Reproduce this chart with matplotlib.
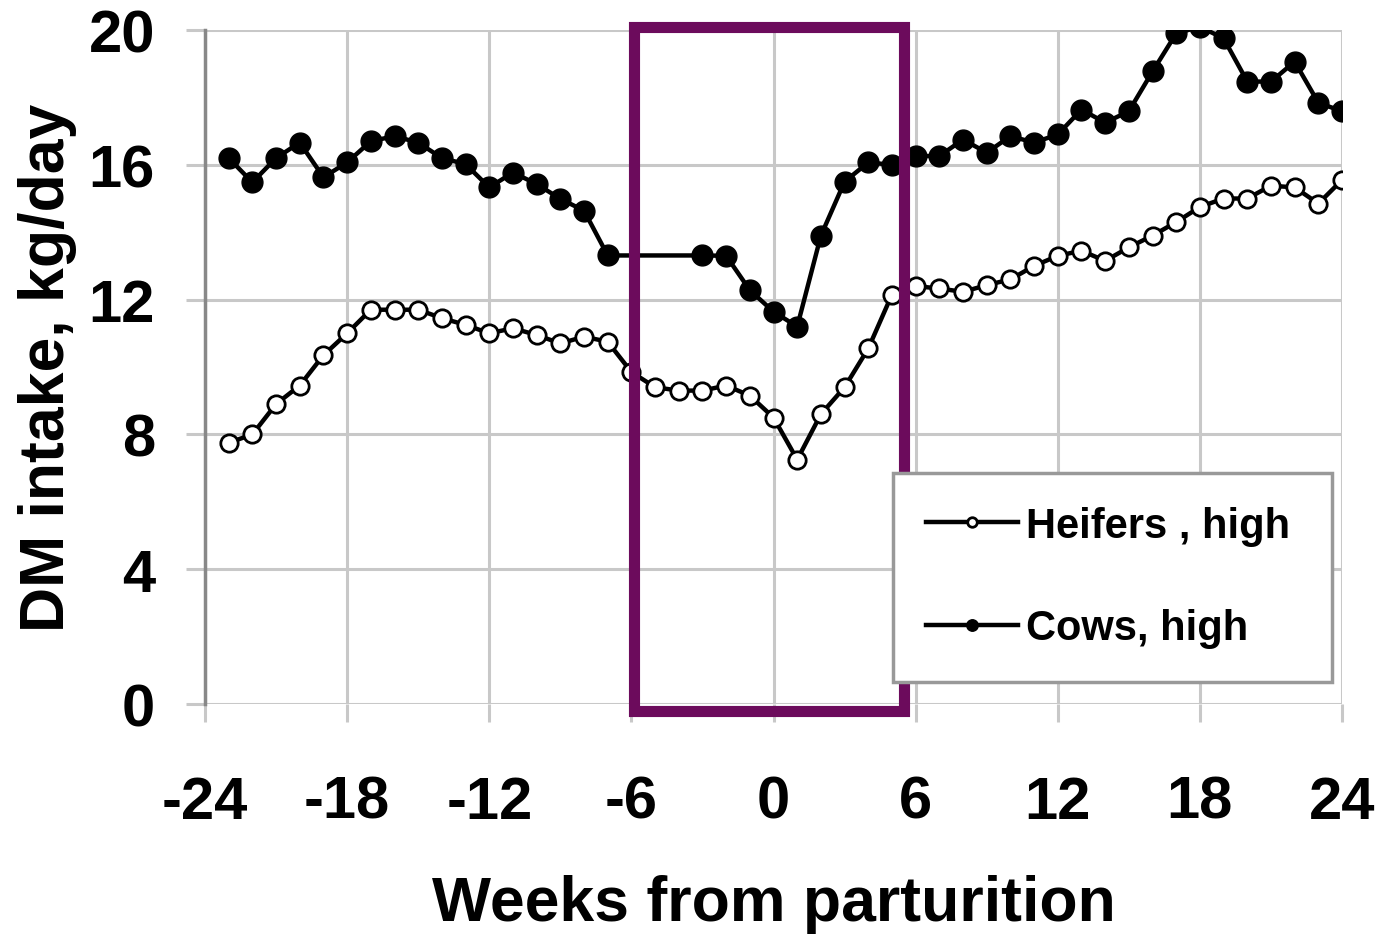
import numpy as np
import matplotlib
matplotlib.use('Agg')
import matplotlib.pyplot as plt
from matplotlib.patches import Rectangle

plt.rcParams['font.family'] = ['Liberation Sans', 'DejaVu Sans']
plt.rcParams['font.weight'] = 'bold'

# weeks relative to calving
heifer_weeks = list(range(-23, 25))
heifer_dmi = [7.75, 8.0, 8.9, 9.45, 10.35, 11.0, 11.7, 11.7, 11.7, 11.45,
              11.25, 11.0, 11.15, 10.95, 10.7, 10.9, 10.75, 9.85, 9.4, 9.3,
              9.3, 9.45, 9.15, 8.5, 7.25, 8.6, 9.4, 10.55, 12.15, 12.4,
              12.33, 12.23, 12.43, 12.6, 13.0, 13.3, 13.45, 13.15, 13.55, 13.9,
              14.3, 14.75, 15.0, 15.0, 15.38, 15.33, 14.85, 15.55]

cow_weeks = [w for w in range(-23, 25) if w not in (-6, -5, -4)]
cow_dmi = [16.2, 15.48, 16.2, 16.66, 15.63, 16.07, 16.7, 16.85, 16.66, 16.2,
           16.02, 15.33, 15.77, 15.43, 14.99, 14.64, 13.31, 13.31, 13.3, 12.28,
           11.64, 11.2, 13.9, 15.5, 16.07, 16.0, 16.26, 16.26, 16.75, 16.36,
           16.85, 16.66, 16.9, 17.64, 17.25, 17.59, 18.77, 19.9, 20.1, 19.75,
           18.47, 18.47, 19.06, 17.84, 17.59]

x_ticks = [-24, -18, -12, -6, 0, 6, 12, 18, 24]
y_ticks = [0, 4, 8, 12, 16, 20]

fig = plt.figure(figsize=(13.86, 9.37), dpi=100)
ax = fig.add_axes([0.1479, 0.2476, 0.8204, 0.7193])

ax.plot(heifer_weeks, heifer_dmi, color='black', lw=3.2, marker='o', ms=12.5,
        mfc='white', mec='black', mew=2, label='Heifers , high', zorder=3)
ax.plot(cow_weeks, cow_dmi, color='black', lw=3.2, marker='o', ms=15,
        mfc='black', mec='black', label='Cows, high', zorder=3)

ax.set_xlim(-24, 24)
ax.set_ylim(0, 20)
ax.set_xticks(x_ticks)
ax.set_yticks(y_ticks)
ax.set_xticklabels([str(t) for t in x_ticks])
ax.grid(True, color='#c8c8c8', lw=2.2)
ax.set_axisbelow(True)

for s in ['top', 'right', 'bottom']:
    ax.spines[s].set_visible(False)
ax.spines['left'].set_color('#888888')
ax.spines['left'].set_linewidth(2.5)

ax.tick_params(axis='x', length=13, width=2.2, color='#c8c8c8', pad=38, labelsize=43)
ax.tick_params(axis='y', length=14, width=2.2, color='#c8c8c8', pad=22, labelsize=43)

ax.set_xlabel('Weeks from parturition', fontsize=45, fontweight='bold', labelpad=32)
ax.set_ylabel('DM intake, kg/day', fontsize=45, fontweight='bold', labelpad=8)

# highlight box around the transition period
box = Rectangle((-5.9, -0.2), 11.4, 20.3, fill=False, edgecolor='#6c0b5c',
                lw=8, clip_on=False, zorder=4)
ax.add_patch(box)

leg = ax.legend(loc='center', bbox_to_anchor=(0.605, 0.0326, 0.386, 0.311),
                mode='expand', borderaxespad=0, fontsize=30, frameon=True,
                fancybox=False, edgecolor='#999999', framealpha=1,
                markerscale=0.55, handlelength=2.2, handletextpad=0.2,
                labelspacing=1.5, borderpad=0.8)
leg.get_frame().set_linewidth(2.5)
leg.set_zorder(5)

fig.savefig('out.png', dpi=100)
